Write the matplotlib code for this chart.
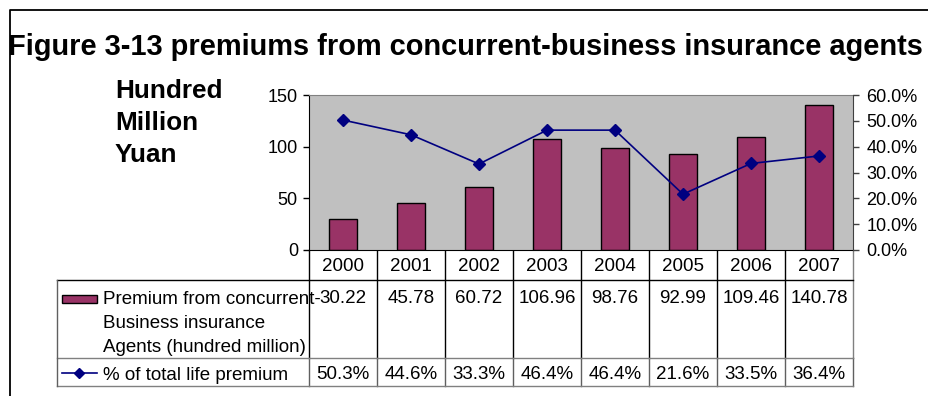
import matplotlib
matplotlib.use("Agg")
import matplotlib.pyplot as plt
from matplotlib.transforms import blended_transform_factory
from matplotlib.patches import Rectangle
from matplotlib.ticker import FuncFormatter

# ---- data ----
years = ["2000", "2001", "2002", "2003", "2004", "2005", "2006", "2007"]
premium = [30.22, 45.78, 60.72, 106.96, 98.76, 92.99, 109.46, 140.78]
share_pct = [50.3, 44.6, 33.3, 46.4, 46.4, 21.6, 33.5, 36.4]
left_ticks = [0, 50, 100, 150]
right_ticks = [0, 10, 20, 30, 40, 50, 60]
series_names = ["Premium from concurrent-", "Business insurance",
                "Agents (hundred million)"]
line_name = "% of total life premium"
title = "Figure 3-13 premiums from concurrent-business insurance agents"
unit_lines = ["Hundred", "Million", "Yuan"]

plt.rcParams["font.family"] = ["Liberation Sans", "DejaVu Sans"]

W, H = 929, 396
fig = plt.figure(figsize=(W / 100, H / 100), dpi=100)
fig.patch.set_facecolor("white")

# full-figure canvas in pixel units for frame, table and captions
canvas = fig.add_axes([0, 0, 1, 1], zorder=0)
canvas.set_xlim(0, W)
canvas.set_ylim(H, 0)
canvas.axis("off")

# plot area
x0, x1, y_top, y_bot = 309, 853, 95, 250
ax = fig.add_axes([x0 / W, (H - y_bot) / H, (x1 - x0) / W, (y_bot - y_top) / H],
                  zorder=2)
xs = list(range(len(years)))
ax.set_xlim(-0.5, len(years) - 0.5)
ax.set_ylim(left_ticks[0], left_ticks[-1])
ax.set_facecolor("#C0C0C0")
ax.bar(xs, premium, width=0.4, color="#993366", edgecolor="black",
       linewidth=1.0, zorder=2)
ax.set_xticks([])
ax.set_yticks(left_ticks)
ax.tick_params(axis="y", direction="out", length=4, width=1, pad=4,
               labelsize=13, colors="black")
ax.spines["top"].set_color("#808080")
ax.spines["left"].set_color("black")
ax.spines["bottom"].set_color("black")
ax.spines["right"].set_visible(False)

ax2 = ax.twinx()
ax2.set_ylim(right_ticks[0], right_ticks[-1])
ax2.set_yticks(right_ticks)
ax2.yaxis.set_major_formatter(FuncFormatter(lambda v, p: f"{v:.1f}%"))
ax2.tick_params(axis="y", direction="out", length=4, width=1, pad=5.5,
                labelsize=13, colors="black")
ax2.tick_params(axis="y", color="#404040")
ax2.spines["right"].set_color("#404040")
for side in ("top", "left", "bottom"):
    ax2.spines[side].set_visible(False)
ax2.plot(xs, share_pct, color="#000080", lw=1.2, marker="D", markersize=6.3,
         markerfacecolor="#000080", markeredgecolor="#000080", zorder=3)

# outer frame (top and left edges)
canvas.plot([10, 10, W], [H, 10, 10], color="black", lw=1.3,
            solid_capstyle="butt")

# title and unit caption
canvas.text(465, 55, title, ha="center", va="baseline", fontsize=20.9,
            fontweight="bold")
for i, t in enumerate(unit_lines):
    canvas.text(115, 98 + 32 * i, t, ha="left", va="baseline", fontsize=18.8,
                fontweight="bold")

# data table under the plot
tr = blended_transform_factory(ax.transData, canvas.transData)
r_year, r_prem, r_pct, r_end = 250, 280, 358, 386
leg_left = 57
edges = [i - 0.5 for i in range(len(years) + 1)]

for k, e in enumerate(edges):
    col = "#808080" if k == len(edges) - 1 else "black"
    canvas.plot([e, e], [r_year, r_pct], transform=tr, color=col, lw=1.0,
                clip_on=False)
    canvas.plot([e, e], [r_pct, r_end], transform=tr, color="#606060",
                lw=1.0, clip_on=False)
# horizontal rules spanning legend column and data columns
for y, col in ((r_prem, "black"), (r_pct, "#808080"), (r_end, "#808080")):
    canvas.plot([leg_left, x1], [y, y], color=col, lw=1.0, clip_on=False)
canvas.plot([leg_left, leg_left], [r_prem, r_end], color="#606060", lw=1.0)

for i, yr in enumerate(years):
    canvas.text(i, 271, yr, transform=tr, ha="center", va="baseline",
                fontsize=13.5)
    canvas.text(i, 303, f"{premium[i]:.2f}", transform=tr, ha="center",
                va="baseline", fontsize=13.5)
    canvas.text(i, 379, f"{share_pct[i]:.1f}%", transform=tr, ha="center",
                va="baseline", fontsize=13.5)

# legend keys inside the table
canvas.add_patch(Rectangle((62, 295), 35, 8, facecolor="#993366",
                           edgecolor="black", lw=1.0))
for i, t in enumerate(series_names):
    canvas.text(103, 304 + 24 * i, t, ha="left", va="baseline", fontsize=13.5)
canvas.plot([62, 97], [373, 373], color="#000080", lw=1.2)
canvas.plot([79.5], [373], marker="D", markersize=5, color="#000080")
canvas.text(103, 380, line_name, ha="left", va="baseline", fontsize=13.5)

fig.savefig("out.png", dpi=100, facecolor="white")
